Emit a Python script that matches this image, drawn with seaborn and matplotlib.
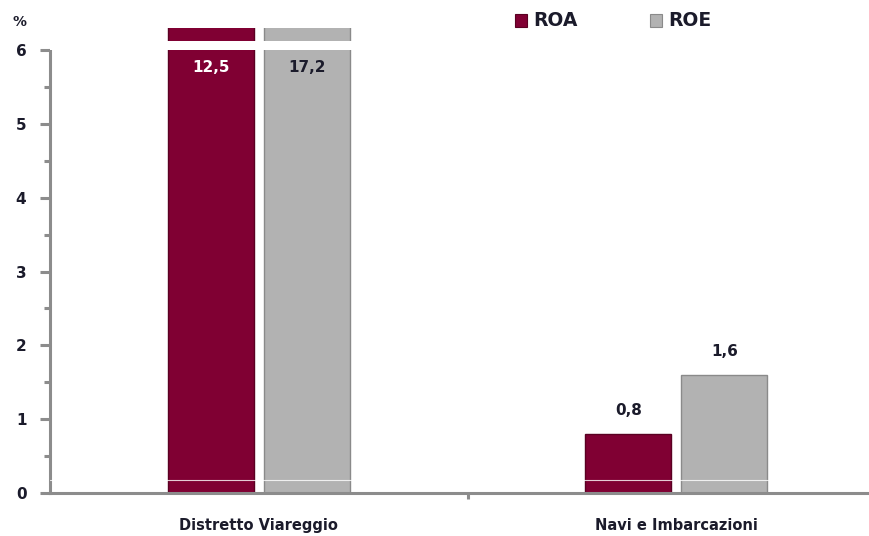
import matplotlib
matplotlib.use("Agg")
import matplotlib.pyplot as plt
from matplotlib.ticker import MultipleLocator
import seaborn as sns
import pandas as pd

# Data
categories = ["Distretto Viareggio", "Navi e Imbarcazioni"]
roa = [12.5, 0.8]
roe = [17.2, 1.6]
series = ["ROA", "ROE"]
roa_labels = ["12,5", "0,8"]
roe_labels = ["17,2", "1,6"]
y_ticks = [0, 1, 2, 3, 4, 5, 6]

df = pd.DataFrame({
    "categoria": categories * 2,
    "indice": ["ROA"] * len(categories) + ["ROE"] * len(categories),
    "valore": roa + roe,
})

sns.set_style("white")
plt.rcParams["font.family"] = ["DejaVu Sans"]

text_color = "#1b1b2b"
axis_color = "#8c8c8c"
palette = {"ROA": "#800033", "ROE": "#b2b2b2"}
edges = {"ROA": "#5a0022", "ROE": "#8a8a8a"}

fig = plt.figure(figsize=(8.7, 5.36), dpi=100)
ax = fig.add_axes([50 / 870, 43 / 536, 820 / 870, 465 / 536])

sns.barplot(data=df, x="categoria", y="valore", hue="indice",
            order=categories, hue_order=series, palette=palette,
            width=0.46, gap=0.1, saturation=1, legend=False, ax=ax, zorder=2)

for cont, name in zip(ax.containers, series):
    for bar in cont:
        bar.set_edgecolor(edges[name])
        bar.set_linewidth(1.0)

# Axis break: values above 6 are cut off with a white gap
ax.set_ylim(0, 6.3)
ax.set_xlim(-0.5, 1.464)
ax.axhspan(6.0, 6.13, color="white", zorder=4, lw=0)
ax.axhline(0.17, color="white", lw=0.8, alpha=0.8, zorder=3)

# Value labels
cap = 6.0
for cont, labels, col in zip(ax.containers, [roa_labels, roe_labels], ["white", text_color]):
    for bar, lab in zip(cont, labels):
        h = bar.get_height()
        xc = bar.get_x() + bar.get_width() / 2
        if h > cap:
            ax.text(xc, 5.76, lab, ha="center", va="center", fontsize=11,
                    fontweight="bold", color=col, zorder=5)
        else:
            ax.text(xc, h + 0.32, lab, ha="center", va="center", fontsize=11,
                    fontweight="bold", color=text_color, zorder=5)

# Axes styling
for s in ["top", "right"]:
    ax.spines[s].set_visible(False)
for s in ["left", "bottom"]:
    ax.spines[s].set_color(axis_color)
    ax.spines[s].set_linewidth(2.2)
ax.spines["left"].set_bounds(0, 6)

ax.set_yticks(y_ticks)
ax.set_yticklabels([str(t) for t in y_ticks])
ax.yaxis.set_minor_locator(MultipleLocator(0.5))
ax.tick_params(axis="y", which="major", left=True, length=7, width=2.2,
               color=axis_color, pad=10, labelsize=11, labelcolor=text_color)
ax.tick_params(axis="y", which="minor", left=True, length=4, width=2.2, color=axis_color)
for t in ax.get_yticklabels():
    t.set_fontweight("bold")

ax.set_xticks([0, 1])
ax.set_xticklabels(categories)
ax.set_xticks([0.5], minor=True)
ax.tick_params(axis="x", which="major", length=0, pad=18, labelsize=10.5, labelcolor=text_color)
ax.tick_params(axis="x", which="minor", bottom=True, length=4, width=2.2, color=axis_color)
for t in ax.get_xticklabels():
    t.set_fontweight("bold")
ax.set_xlabel("")
ax.set_ylabel("")

fig.text(20 / 870, 1 - 22 / 536, "%", ha="center", va="center", fontsize=10,
         fontweight="bold", color=text_color)

# Legend
for name, xs in zip(series, [515, 650]):
    fig.patches.append(plt.Rectangle((xs / 870, 1 - 27 / 536), 12 / 870, 13 / 536,
                                     transform=fig.transFigure, facecolor=palette[name],
                                     edgecolor=edges[name], lw=0.8))
    fig.text((xs + 18) / 870, 1 - 21 / 536, name, ha="left", va="center",
             fontsize=13.5, fontweight="bold", color=text_color)

fig.savefig("out.png", dpi=100)
